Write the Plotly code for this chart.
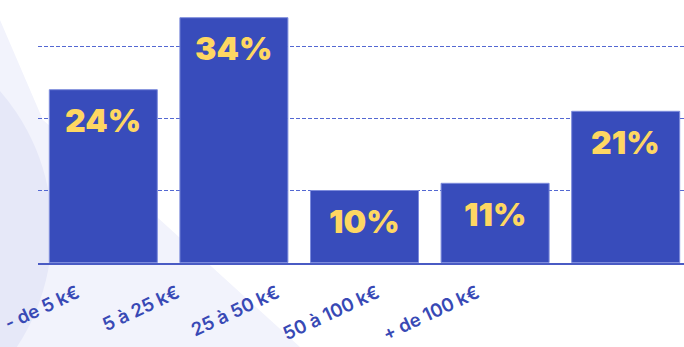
import plotly.graph_objects as go

categories = ["- de 5 k€", "5 à 25 k€", "25 à 50 k€", "50 à 100 k€", "+ de 100 k€"]
values = [24, 34, 10, 11, 21]
labels = ["24%", "34%", "10%", "11%", "21%"]
grid_vals = [10, 20, 30]

W, H = 684, 347
ML, MR, MT, MB = 38, 0, 0, 84
PW, PH = W - ML - MR, H - MT - MB

def px(x):
    return (x - ML) / PW

def py(y):
    return (MT + PH - y) / PH

BLUE = "#384cbb"
YELLOW = "#fed762"

fig = go.Figure()
fig.add_trace(go.Bar(
    x=categories, y=values,
    marker=dict(color=BLUE, line=dict(color="#7d8cdc", width=1)),
    hoverinfo="skip", showlegend=False,
))
# tick-label carrier on a secondary axis
fig.add_trace(go.Scatter(
    x=list(range(len(categories))), y=[0] * len(categories),
    xaxis="x2", mode="markers", marker=dict(opacity=0),
    hoverinfo="skip", showlegend=False,
))

for c, v, t in zip(categories, values, labels):
    fig.add_annotation(
        x=c, y=v, text=t, showarrow=False, yanchor="middle", yshift=-31,
        font=dict(family="Inter", size=32, color=YELLOW, weight=900),
    )

# decorative background shapes
poly = [(0, 20), (43, 120), (157, 217), (300, 347), (0, 347)]
path = "M " + " L ".join(f"{px(a):.4f},{py(b):.4f}" for a, b in poly) + " Z"
fig.add_shape(type="path", path=path, xref="paper", yref="paper",
              fillcolor="#f2f3fc", line=dict(width=0), layer="below")
fig.add_shape(type="circle", xref="paper", yref="paper",
              x0=px(-372), x1=px(52), y0=py(442), y1=py(18),
              fillcolor="#e6e8f8", line=dict(width=0), layer="below")

n = len(categories)
x2min = -(77 - ML) / 100
SCALE = 7.2  # px per unit
fig.update_layout(
    width=W, height=H,
    margin=dict(l=ML, r=MR, t=MT, b=MB, autoexpand=False),
    paper_bgcolor="white", plot_bgcolor="rgba(0,0,0,0)",
    bargap=0.173,
    xaxis=dict(
        type="category", range=[-0.5, -0.5 + PW / 130.6],
        showticklabels=False, ticks="", showgrid=False,
        showline=True, linecolor="#4a5bc4", linewidth=2,
        zeroline=False, fixedrange=True, automargin=False,
    ),
    xaxis2=dict(
        overlaying="x", anchor="y", side="bottom",
        range=[x2min, x2min + PW / 100],
        tickvals=list(range(n)), ticktext=categories,
        tickangle=-25, ticks="", showgrid=False, showline=False, zeroline=False,
        tickfont=dict(family="Inter", size=18.5, color="#3849b5", weight=600),
        ticklabelstandoff=15, automargin=False, ticklabeloverflow="allow",
    ),
    yaxis=dict(
        range=[-0.5 / SCALE, (PH - 0.5) / SCALE], tickvals=grid_vals, showticklabels=False,
        showgrid=True, gridcolor="#5468d2", griddash="4px,2px", gridwidth=1,
        zeroline=False, ticks="", fixedrange=True, automargin=False,
    ),
)

fig.write_html("out.html")
